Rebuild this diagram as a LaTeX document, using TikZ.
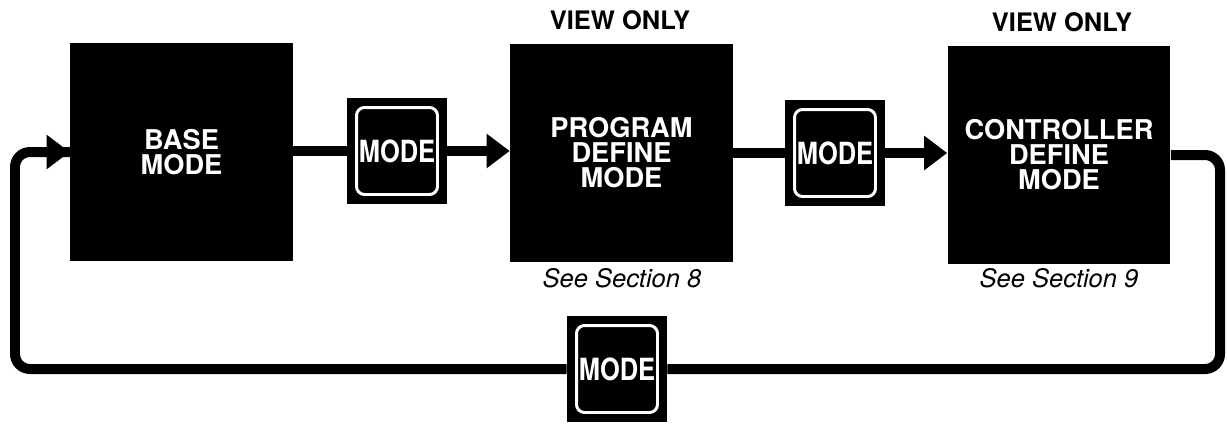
\documentclass[tikz,border=0pt]{standalone}
\usepackage{fontspec}
\usepackage{graphicx}
\setsansfont{TeX Gyre Heros}
\usetikzlibrary{arrows.meta}
\tikzset{every picture/.style={/utils/exec={\sffamily}}}
\newcommand{\keylabel}{\scalebox{1}[1.2]{MODE}}
\tikzset{
	modebox/.style={fill=black, text=white, align=center, minimum width=4.46cm, minimum height=4.38cm,
		font=\fontsize{15.5}{14.2}\selectfont\bfseries},
	modekey/.style={fill=black, text=white, minimum width=2cm, minimum height=2.12cm, inner sep=0pt,
		font=\fontsize{14.5}{14}\selectfont\bfseries,
		path picture={\draw[white, line width=1.7pt, rounded corners=0.16cm]
			([shift={(0.19cm,0.19cm)}]path picture bounding box.south west) rectangle
			([shift={(-0.19cm,-0.19cm)}]path picture bounding box.north east);}},
	flow/.style={line width=0.2cm},
	flowtip/.style={line width=0.2cm, -{Triangle[length=0.46cm, width=0.66cm]}},
	note/.style={font=\fontsize{14.5}{14}\selectfont\itshape},
	header/.style={font=\fontsize{14.5}{14}\selectfont\bfseries}
}
\begin{document}
\begin{tikzpicture}[x=0.02cm, y=-0.02cm]
				\useasboundingbox (0,0) rectangle (1227,423);

				\node[modebox] (base) at (181.5,152) {BASE\\MODE};
				\node[modebox] (prog) at (621.5,153) {PROGRAM\\DEFINE\\MODE};
				\node[modebox] (ctrl) at (1059,155) {CONTROLLER\\DEFINE\\MODE};

				\node[modekey] (key1) at (397,151) {\keylabel};
				\node[modekey] (key2) at (835,153) {\keylabel};
				\node[modekey] (key3) at (617,369) {\keylabel};

				\node[header] (view1) at (620,20) {VIEW ONLY};
				\node[header] (view2) at (1062,22) {VIEW ONLY};
				\node[note] (sec8) at (622,278) {See Section 8};
				\node[note] (sec9) at (1059,278) {See Section 9};

				\coordinate (rt) at (1220,369);
				\coordinate (lb) at (15,369);

				\draw[flow] (base.east |- key1.west) -- (key1.west);
				\draw[flowtip] (key1.east) -- (key1.east -| prog.west);
				\draw[flow] (prog.east |- key2.west) -- (key2.west);
				\draw[flowtip] (key2.east) -- (key2.east -| ctrl.west);

				\draw[flow, rounded corners=0.3cm] (ctrl.east) -| (rt) -- (key3.east);
				\draw[flow, rounded corners=0.3cm] (key3.west) -- (lb) |- ([xshift=0.1cm]base.west);
				\draw[flowtip] ([xshift=-0.8cm]base.west) -- (base.west);
			\end{tikzpicture}
\end{document}
